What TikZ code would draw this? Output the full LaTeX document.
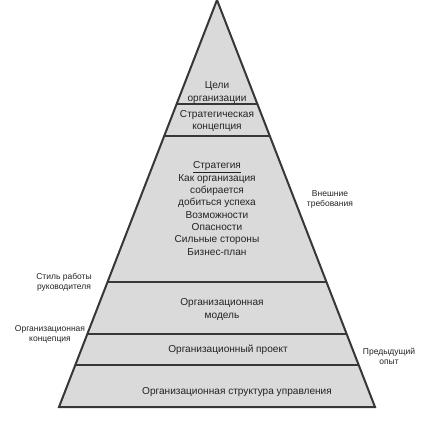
\documentclass[tikz,border=0pt]{standalone}
\usepackage{fontspec}
\setmainfont{Liberation Sans}
\usetikzlibrary{calc}
\definecolor{pyrfill}{RGB}{218,218,218}
\definecolor{edgecol}{RGB}{55,55,55}
\definecolor{txtcol}{RGB}{35,35,35}
\tikzset{
  pyrtext/.style={align=center, text=txtcol, inner sep=0pt, font=\fontsize{10.1}{12.3}\selectfont},
  sidetext/.style={align=center, text=txtcol, inner sep=0pt, font=\fontsize{8.5}{10}\selectfont},
  divline/.style={draw=edgecol, line width=1.1pt},
  pyredge/.style={draw=edgecol, line width=2pt, line join=miter},
}
\begin{document}
\begin{tikzpicture}[x=1pt,y=-1pt]
\useasboundingbox (0,0) rectangle (437,423);
\coordinate (A) at (217,0);
\coordinate (BL) at (59,407);
\coordinate (BR) at (375,407);
\fill[pyrfill] (A) -- (BL) -- (BR) -- cycle;
\foreach \yy/\nm in {104/a,136/b,282/c,334/d,365/e}{
  \coordinate (L\nm) at ($(A)!\yy/407!(BL)$);
  \coordinate (R\nm) at ($(A)!\yy/407!(BR)$);
  \draw[divline] (L\nm) -- (R\nm);
}
\draw[pyredge] (BL) -- (A) -- (BR) -- cycle;
% texts in the pyramid
\node[pyrtext] (goals) at (217,92.5) {Цели\\организации};
\node[pyrtext] (stratconc) at (217,121) {Стратегическая\\концепция};
\node[pyrtext] (strat) at (217,208.5) {\underline{Стратегия}\\Как организация\\собирается\\добиться успеха\\Возможности\\Опасности\\Сильные стороны\\Бизнес-план};
\node[pyrtext] (model) at (222,309.5) {Организационная\\модель};
\node[pyrtext] (project) at (228,350) {Организационный проект};
\node[pyrtext] (struct) at (237,392) {Организационная структура управления};
% side labels
\node[sidetext] (style) at (64,282.5) {Стиль работы\\руководителя};
\node[sidetext] (orgconc) at (50,334.5) {Организационная\\концепция};
\node[sidetext] (prev) at (389,356.5) {Предыдущий\\опыт};
\node[sidetext] (ext) at (330,199) {Внешние\\требования};
\end{tikzpicture}
\end{document}
